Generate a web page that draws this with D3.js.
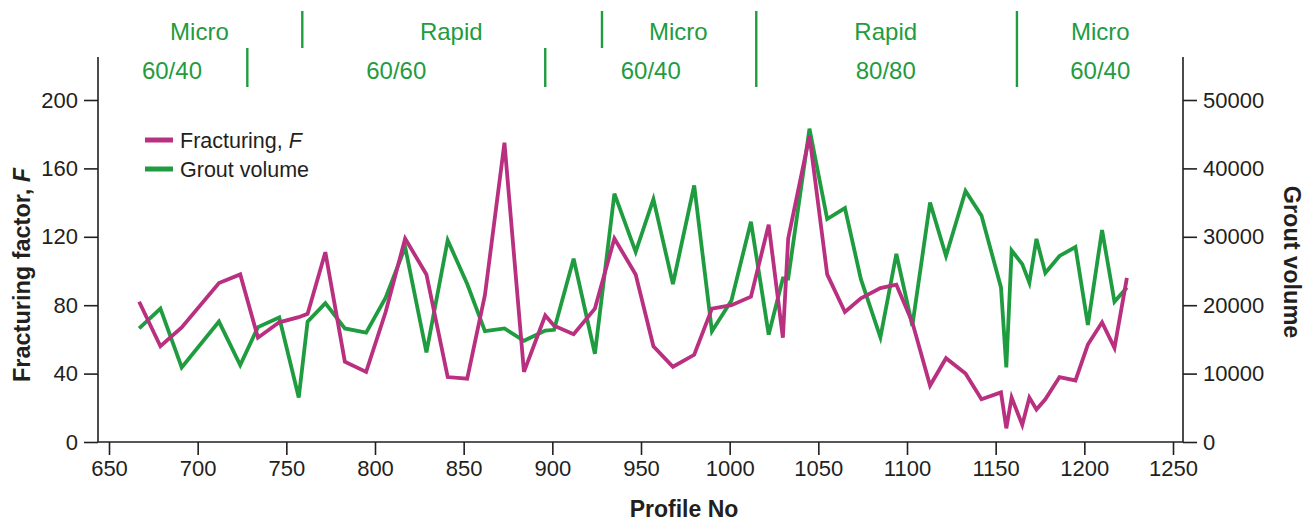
<!DOCTYPE html>
<html>
<head>
<meta charset="utf-8">
<script src="https://cdn.jsdelivr.net/npm/d3@7"></script>
<style>
  body { margin: 0; background: #fff; }
  svg { font-family: "Liberation Sans", Arial, sans-serif; }
  .tick text { font-size: 22px; fill: #231f20; }
  .tick line { stroke: #231f20; stroke-width: 1.6; }
</style>
</head>
<body>
<div id="chart"></div>
<script>
// profile numbers along the tunnel
var profile = [667, 679, 691, 712, 724, 734, 746, 757, 762, 772,
    783, 795, 806, 817, 829, 841, 852, 862, 873, 884,
    896, 901, 912, 924, 935, 947, 957, 968, 980, 990,
    1001, 1012, 1022, 1030, 1033, 1045, 1055, 1065, 1074, 1085,
    1094, 1103, 1113, 1122, 1133, 1142, 1153, 1156, 1159, 1165,
    1169, 1173, 1178, 1186, 1195, 1202, 1210, 1217, 1224];

var fracturing = [82, 56, 67, 93, 98, 61, 70, 73, 75, 111,
    47, 41, 76, 119, 98, 38, 37, 86, 175, 41,
    74, 68, 63, 78, 119, 98, 56, 44, 51, 78,
    80, 85, 127, 61, 119, 179, 98, 76, 84, 90,
    92, 70, 33, 49, 40, 25, 29, 8, 26, 10,
    26, 19, 25, 38, 36, 57, 70, 55, 96];

var grout = [16600, 19500, 10900, 17600, 11250, 16800, 18200, 6500, 17600, 20300,
    16600, 16000, 21100, 28500, 13100, 29500, 23100, 16200, 16600, 14800,
    16300, 16400, 26800, 12900, 36300, 27800, 35500, 23100, 37500, 16200,
    20700, 32200, 15700, 23900, 23900, 45800, 32600, 34200, 23800, 15300,
    27500, 17000, 35000, 27200, 36700, 33100, 22600, 10900, 28000, 26000,
    23300, 29700, 24700, 27200, 28500, 17100, 31000, 20500, 22600];

var xTicks = [650, 700, 750, 800, 850, 900, 950, 1000, 1050, 1100, 1150, 1200, 1250];
var leftTicks = [0, 40, 80, 120, 160, 200];
var rightTicks = [0, 10000, 20000, 30000, 40000, 50000];

// grouting method (top row) and pressure (bottom row) sections
var methodLabels = [["Micro", 701], ["Rapid", 843], ["Micro", 971], ["Rapid", 1088], ["Micro", 1209]];
var pressureLabels = [["60/40", 685.5], ["60/60", 812], ["60/40", 955.5], ["80/80", 1088], ["60/40", 1209]];
var methodBreaks = [759, 928];
var pressureBreaks = [728, 896];
var fullBreaks = [1015, 1162];

var magenta = "#b8307f", green = "#1f9c3f", ink = "#231f20";

var W = 1306, H = 521;
var svg = d3.select("#chart").append("svg")
    .attr("width", W)
    .attr("height", H);

var x = d3.scaleLinear().domain([650, 1250]).range([109, 1173]);
var yL = d3.scaleLinear().domain([0, 200]).range([442, 100]);
var yR = d3.scaleLinear().domain([0, 50000]).range([442, 100]);

var axisLeftX = 98, axisRightX = 1183, axisTop = 57;
var fmt = d3.format("d");

// axes
svg.append("g")
    .attr("transform", "translate(0,442)")
    .call(d3.axisBottom(x).tickValues(xTicks).tickFormat(fmt).tickSize(13).tickPadding(5).tickSizeOuter(0))
    .call(function (g) { g.select(".domain").remove(); });

svg.append("g")
    .attr("transform", "translate(" + axisLeftX + ",0)")
    .call(d3.axisLeft(yL).tickValues(leftTicks).tickFormat(fmt).tickSize(14).tickPadding(6))
    .call(function (g) { g.select(".domain").remove(); });

svg.append("g")
    .attr("transform", "translate(" + axisRightX + ",0)")
    .call(d3.axisRight(yR).tickValues(rightTicks).tickFormat(fmt).tickSize(14).tickPadding(6))
    .call(function (g) { g.select(".domain").remove(); });

svg.selectAll("text").style("font-family", '"Liberation Sans", Arial, sans-serif');

// axis lines
svg.append("path")
    .attr("d", "M" + axisLeftX + "," + axisTop + "V442H" + axisRightX + "V" + axisTop)
    .attr("fill", "none")
    .attr("stroke", ink)
    .attr("stroke-width", 1.6);

// lines
var fLine = d3.line()
    .x(function (d, i) { return x(profile[i]); })
    .y(function (d) { return yL(d); });
var gLine = d3.line()
    .x(function (d, i) { return x(profile[i]); })
    .y(function (d) { return yR(d); });

svg.append("path")
    .datum(grout)
    .attr("d", gLine)
    .attr("fill", "none")
    .attr("stroke", green)
    .attr("stroke-width", 3.8)
    .attr("stroke-linejoin", "miter");

svg.append("path")
    .datum(fracturing)
    .attr("d", fLine)
    .attr("fill", "none")
    .attr("stroke", magenta)
    .attr("stroke-width", 3.8)
    .attr("stroke-linejoin", "miter");

// section annotations at the top
var sections = svg.append("g").attr("fill", green).style("font-size", "24px");
sections.selectAll(".method").data(methodLabels).enter().append("text")
    .attr("x", function (d) { return x(d[1]); })
    .attr("y", 40)
    .attr("text-anchor", "middle")
    .text(function (d) { return d[0]; });
sections.selectAll(".pressure").data(pressureLabels).enter().append("text")
    .attr("x", function (d) { return x(d[1]); })
    .attr("y", 79)
    .attr("text-anchor", "middle")
    .text(function (d) { return d[0]; });

function breaks(vals, y1, y2) {
    sections.selectAll(null).data(vals).enter().append("line")
        .attr("x1", function (d) { return x(d); })
        .attr("x2", function (d) { return x(d); })
        .attr("y1", y1)
        .attr("y2", y2)
        .attr("stroke", green)
        .attr("stroke-width", 2.4);
}
breaks(methodBreaks, 11, 48);
breaks(pressureBreaks, 48, 87);
breaks(fullBreaks, 11, 87);

// legend
var legend = svg.append("g").style("font-size", "21.5px").attr("fill", ink);
[[magenta, 140], [green, 169]].forEach(function (l, i) {
    legend.append("line")
        .attr("x1", 145).attr("x2", 173)
        .attr("y1", l[1]).attr("y2", l[1])
        .attr("stroke", l[0]).attr("stroke-width", 5);
    var t = legend.append("text").attr("x", 180).attr("y", l[1] + 8);
    if (i == 0) {
        t.append("tspan").text("Fracturing, ");
        t.append("tspan").style("font-style", "italic").text("F");
    } else {
        t.text("Grout volume");
    }
});

// axis titles
svg.append("text")
    .attr("x", 684).attr("y", 517)
    .attr("text-anchor", "middle")
    .style("font-size", "23px").style("font-weight", "bold").attr("fill", ink)
    .text("Profile No");

var yt = svg.append("text")
    .attr("text-anchor", "middle")
    .attr("transform", "translate(30,275)rotate(-90)")
    .style("font-size", "23.5px").style("font-weight", "bold").attr("fill", ink);
yt.append("tspan").text("Fracturing factor, ");
yt.append("tspan").style("font-style", "italic").text("F");

svg.append("text")
    .attr("text-anchor", "middle")
    .attr("transform", "translate(1284,262)rotate(90)")
    .style("font-size", "23.5px").style("font-weight", "bold").attr("fill", ink)
    .text("Grout volume");
</script>
</body>
</html>
